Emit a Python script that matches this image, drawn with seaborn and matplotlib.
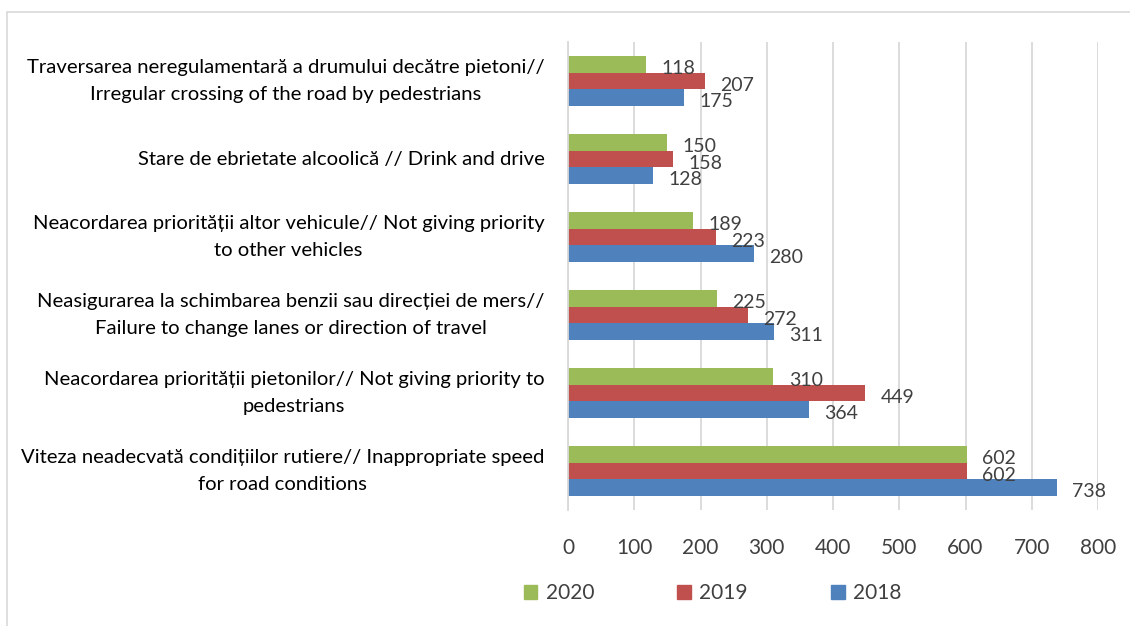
import matplotlib
matplotlib.use('Agg')
import matplotlib.pyplot as plt
import matplotlib.patches as mpatches
import seaborn as sns
import pandas as pd

# Chart data
categories = [
    'Traversarea neregulamentară a drumului decătre pietoni//\nIrregular crossing of the road by pedestrians',
    'Stare de ebrietate alcoolică // Drink and drive',
    'Neacordarea priorității altor vehicule// Not giving priority\nto other vehicles',
    'Neasigurarea la schimbarea benzii sau direcției de mers//\nFailure to change lanes or direction of travel',
    'Neacordarea priorității pietonilor// Not giving priority to\npedestrians',
    'Viteza neadecvată condițiilor rutiere// Inappropriate speed\nfor road conditions',
]
years = ['2020', '2019', '2018']
values_2020 = [118, 150, 189, 225, 310, 602]
values_2019 = [207, 158, 223, 272, 449, 602]
values_2018 = [175, 128, 280, 311, 364, 738]
colors = ['#9BBB59', '#C0504D', '#4F81BD']
x_ticks = [0, 100, 200, 300, 400, 500, 600, 700, 800]

df = pd.DataFrame({
    'category': categories * 3,
    'year': [y for y in years for _ in categories],
    'value': values_2020 + values_2019 + values_2018,
})

sns.set_style('white')
plt.rcParams['font.family'] = ['Lato', 'DejaVu Sans']

fig = plt.figure(figsize=(11.3, 6.26), dpi=100)
ax = fig.add_axes([0.5027, 0.1853, 0.4690, 0.7476])

sns.barplot(data=df, x='value', y='category', hue='year', hue_order=years,
            palette=colors, orient='h', width=0.63, gap=0, saturation=1,
            edgecolor='none', ax=ax)

# value labels just past the end of each bar
for container in ax.containers:
    for bar in container:
        w = bar.get_width()
        ax.annotate(f'{int(w)}', (w, bar.get_y() + bar.get_height() / 2),
                    xytext=(11, -3), textcoords='offset points',
                    ha='left', va='center', fontsize=14, color='#404040')

ax.set_xlim(0, 800)
ax.set_xticks(x_ticks)
ax.set_xlabel('')
ax.set_ylabel('')
ax.grid(axis='x', color='#D9D9D9', linewidth=1.3)
ax.set_axisbelow(True)
for s in ['top', 'right', 'bottom']:
    ax.spines[s].set_visible(False)
ax.spines['left'].set_color('#D9D9D9')
ax.spines['left'].set_linewidth(1.3)
ax.tick_params(axis='x', length=0, pad=20, labelsize=15, labelcolor='#404040')
ax.tick_params(axis='y', length=0, pad=17, labelsize=14.6, labelcolor='#000000')
for t in ax.get_yticklabels():
    t.set_multialignment('center')
    t.set_linespacing(1.65)
    t.set_verticalalignment('center')

ax.get_legend().remove()
handles = [mpatches.Patch(color=c, label=y) for c, y in zip(colors, years)]
fig.legend(handles=handles, loc='center', bbox_to_anchor=(0.6305, 0.0527),
           ncol=3, frameon=False, fontsize=15, handlelength=0.65,
           handleheight=0.65, handletextpad=0.4, columnspacing=4.0,
           labelcolor='#404040')

# light frame around the chart area
fig.patches.append(mpatches.Rectangle((7 / 1130, -0.05), 1.1, 1 - 12 / 626 + 0.05,
                                      transform=fig.transFigure, fill=False,
                                      edgecolor='#D9D9D9', linewidth=1.2))

fig.savefig('out.png', dpi=100)
